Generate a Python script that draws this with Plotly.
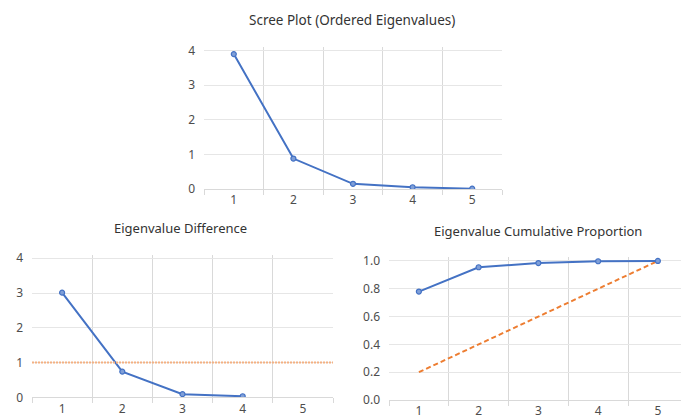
import plotly.graph_objects as go

categories = ["1", "2", "3", "4", "5"]
eigenvalues = [3.90, 0.88, 0.15, 0.05, 0.01]
diff_categories = ["1", "2", "3", "4"]
eigen_diff = [3.01, 0.74, 0.09, 0.03]
diff_threshold = 1.0
cum_proportion = [0.78, 0.955, 0.985, 0.998, 1.0]
equal_proportion = [0.2, 0.4, 0.6, 0.8, 1.0]

titles = ["Scree Plot (Ordered Eigenvalues)", "Eigenvalue Difference",
          "Eigenvalue Cumulative Proportion"]

BLUE = "#4472C4"
ORANGE = "#ED7D31"
GRID = "#D9D9D9"
TXT = "#4D4D4D"
FONT = "Noto Sans"

W, H = 681, 419

def px_x(a, b):
    return [a / W, min(1.0, b / W)]

def px_y(top, bottom):
    return [1 - bottom / H, 1 - top / H]

fig = go.Figure()

line_style = dict(color=BLUE, width=2)
marker_style = dict(symbol="circle", size=5, color="#7F9FD8", line=dict(color=BLUE, width=1.2))

fig.add_trace(go.Scatter(x=categories, y=eigenvalues, mode="lines+markers",
                         line=line_style, marker=marker_style, xaxis="x", yaxis="y",
                         showlegend=False))
fig.add_trace(go.Scatter(x=diff_categories, y=eigen_diff, mode="lines+markers",
                         line=line_style, marker=marker_style, xaxis="x2", yaxis="y2",
                         showlegend=False))
fig.add_trace(go.Scatter(x=categories, y=equal_proportion, mode="lines",
                         line=dict(color=ORANGE, width=2, dash="5px,3px"),
                         xaxis="x3", yaxis="y3", showlegend=False))
fig.add_trace(go.Scatter(x=categories, y=cum_proportion, mode="lines+markers",
                         line=line_style, marker=marker_style, xaxis="x3", yaxis="y3",
                         showlegend=False))

fig.add_shape(type="line", xref="x2 domain", yref="y2", x0=0, x1=1,
              y0=diff_threshold, y1=diff_threshold,
              line=dict(color="#F4B183", width=2, dash="2px,1px"))

def xaxis(domain, anchor, rng):
    return dict(domain=domain, anchor=anchor, type="category",
                categoryorder="array", categoryarray=categories,
                range=rng, tickson="boundaries", showgrid=True, gridcolor=GRID,
                gridwidth=1, ticks="outside", ticklen=5, tickcolor=GRID,
                showline=True, linecolor=GRID, linewidth=1, automargin=False,
                tickfont=dict(family=FONT, size=12, color=TXT), fixedrange=True)

def yaxis(domain, anchor, rng, dtick, fmt=None):
    d = dict(domain=domain, anchor=anchor, range=rng, dtick=dtick, tick0=0,
             showgrid=True, gridcolor="#E6E6E6", gridwidth=1, zeroline=False,
             showline=False, ticks="", ticklabelstandoff=8, automargin=False,
             tickfont=dict(family=FONT, size=12, color=TXT), fixedrange=True)
    if fmt:
        d["tickformat"] = fmt
    return d

fig.update_layout(
    width=W, height=H, margin=dict(l=0, r=0, t=0, b=0, pad=0, autoexpand=False),
    paper_bgcolor="white", plot_bgcolor="white",
    xaxis=xaxis(px_x(204, 502), "y", [-0.5, 4.5]),
    yaxis=yaxis(px_y(47.2, 189), "x", [0, 4.1], 1),
    xaxis2=xaxis(px_x(32, 333), "y2", [-0.5, 4.5]),
    yaxis2=yaxis(px_y(254.8, 397.3), "x2", [0, 4.1], 1),
    xaxis3=xaxis(px_x(389, 681), "y3", [-0.5, 4.387]),
    yaxis3=yaxis(px_y(256.8, 400), "x3", [0, 1.03], 0.2, ".1f"),
)

title_sizes = [13.5, 13, 13]
for t, s, (x, y) in zip(titles, title_sizes, [(352, 20), (180, 228), (538, 231)]):
    fig.add_annotation(text=t, x=x / W, y=1 - y / H,
                       xref="paper", yref="paper",
                       showarrow=False, xanchor="center", yanchor="middle",
                       font=dict(family=FONT, size=s, color="#333333"))

fig.write_html("out.html", config={"displayModeBar": False, "staticPlot": True},
               post_script="document.body.style.margin='0';document.body.style.overflow='hidden';")
